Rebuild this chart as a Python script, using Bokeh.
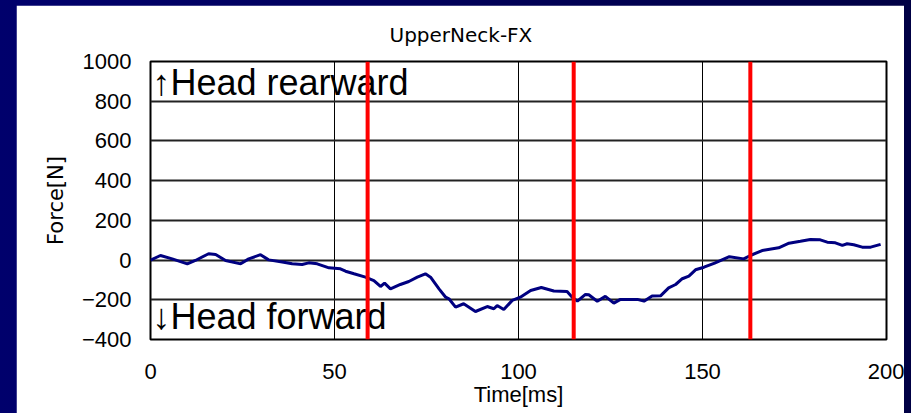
from bokeh.plotting import figure
from bokeh.models import Range1d, FixedTicker, Span, Label, GlobalInlineStyleSheet
from bokeh.embed import file_html
from bokeh.resources import INLINE

# ---- data ----
time_ms = [0.0, 2.7, 5.9, 10.0, 12.2, 15.8, 17.7, 20.4, 24.5, 26.7, 29.9, 32.1, 35.8,
           38.5, 41.2, 43.0, 45.3, 48.5, 51.6, 53.0, 55.3, 58.4, 60.7, 62.5, 63.6, 65.2,
           67.9, 70.2, 72.5, 74.7, 76.1, 78.4, 80.2, 81.1, 82.9, 85.1, 88.3, 91.5, 93.3,
           94.2, 96.0, 98.3, 100.5, 103.3, 106.2, 109.6, 113.2, 114.6, 116.0, 118.2,
           119.1, 121.4, 123.6, 125.9, 127.7, 132.3, 134.1, 136.3, 138.6, 140.8, 142.7,
           144.5, 146.3, 148.1, 150.4, 153.3, 157.3, 161.2, 163.0, 166.2, 170.7, 173.5,
           176.6, 179.3, 182.0, 183.9, 186.1, 188.0, 189.3, 191.1, 193.4, 195.7, 198.4]
force_n = [0, 23, 6, -19, -2, 32, 28, -2, -19, 6, 27, 1, -10,
           -19, -22, -14, -19, -39, -44, -56, -69, -86, -103, -133, -116, -145,
           -123, -108, -86, -69, -86, -145, -187, -195, -237, -220, -259, -234, -245,
           -229, -249, -203, -187, -153, -138, -156, -158, -187, -207, -173,
           -175, -207, -183, -217, -198, -198, -207, -181, -180, -140, -123,
           -94, -81, -49, -36, -15, 17, 6, 23, 48, 62, 85,
           95, 104, 102, 90, 87, 74, 82, 77, 65, 65, 79]
event_times = [59, 115, 163]

x_ticks = [0, 50, 100, 150, 200]
y_ticks = [-400, -200, 0, 200, 400, 600, 800, 1000]
y_tick_labels = ["\u2212400", "\u2212200", "0", "200", "400", "600", "800", "1000"]

title_text = "UpperNeck-FX"
x_label = "Time[ms]"
y_label = "Force[N]"
upper_note = "\u2191Head rearward"
lower_note = "\u2193Head forward"

# ---- figure ----
page_css = GlobalInlineStyleSheet(
    css="body { background: linear-gradient(to right, #00006c 0%, #000044 100%); }")

p = figure(width=888, height=408,
           x_range=Range1d(0, 200), y_range=Range1d(-400, 1000),
           output_backend="svg", toolbar_location=None,
           min_border_left=134, min_border_right=18,
           min_border_top=56, min_border_bottom=74)
p.margin = (5, 0, 0, 16)
p.stylesheets = [page_css]
p.border_fill_color = "white"
p.background_fill_color = "white"
p.outline_line_color = "black"
p.outline_line_width = 2

# title
p.title.text = title_text
p.title.align = "left"
p.title.offset = 239
p.title.vertical_align = "bottom"
p.title.standoff = 30
p.title.text_font = "DejaVu Sans"
p.title.text_font_size = "20px"
p.title.text_font_style = "normal"
p.title.text_color = "black"

# grid
p.xgrid.ticker = FixedTicker(ticks=x_ticks)
p.ygrid.ticker = FixedTicker(ticks=y_ticks)
p.xgrid.grid_line_color = "black"
p.xgrid.grid_line_width = 1
p.ygrid.grid_line_color = "#222222"
p.ygrid.grid_line_width = 2

# axes
for ax in (p.xaxis[0], p.yaxis[0]):
    ax.axis_line_color = None
    ax.major_tick_line_color = None
    ax.minor_tick_line_color = None
    ax.major_tick_in = 0
    ax.major_tick_out = 0
    ax.minor_tick_in = 0
    ax.minor_tick_out = 0
    ax.major_label_text_font = "Liberation Sans"
    ax.major_label_text_font_size = "22px"
    ax.major_label_text_color = "black"

p.xaxis.ticker = FixedTicker(ticks=x_ticks)
p.yaxis.ticker = FixedTicker(ticks=y_ticks)
p.yaxis.major_label_overrides = {t: s for t, s in zip(y_ticks, y_tick_labels)}
p.xaxis.major_label_standoff = 24
p.yaxis.major_label_standoff = 19

p.xaxis.axis_label = x_label
p.xaxis.axis_label_text_font = "Liberation Sans"
p.xaxis.axis_label_text_font_size = "22px"
p.xaxis.axis_label_text_font_style = "normal"
p.xaxis.axis_label_standoff = 0
p.xaxis.axis_label_text_color = "black"

p.yaxis.axis_label = y_label
p.yaxis.axis_label_text_font = "DejaVu Sans"
p.yaxis.axis_label_text_font_size = "21px"
p.yaxis.axis_label_text_font_style = "normal"
p.yaxis.axis_label_standoff = 11
p.yaxis.axis_label_text_color = "black"

# curve
p.line(time_ms, force_n, line_color="#000080", line_width=3)

# notes inside the plot
p.add_layout(Label(x=0, y=1000, x_offset=2, text=upper_note,
                   text_font="Liberation Sans", text_font_size="36px",
                   text_baseline="top", text_align="left", text_color="black"))
p.add_layout(Label(x=0, y=-400, x_offset=2, y_offset=3, text=lower_note,
                   text_font="Liberation Sans", text_font_size="36px",
                   text_baseline="bottom", text_align="left", text_color="black"))

# event markers
for t in event_times:
    p.add_layout(Span(location=t, dimension="height", line_color="#ff0000", line_width=4))

open("out.html", "w").write(file_html(p, INLINE))
